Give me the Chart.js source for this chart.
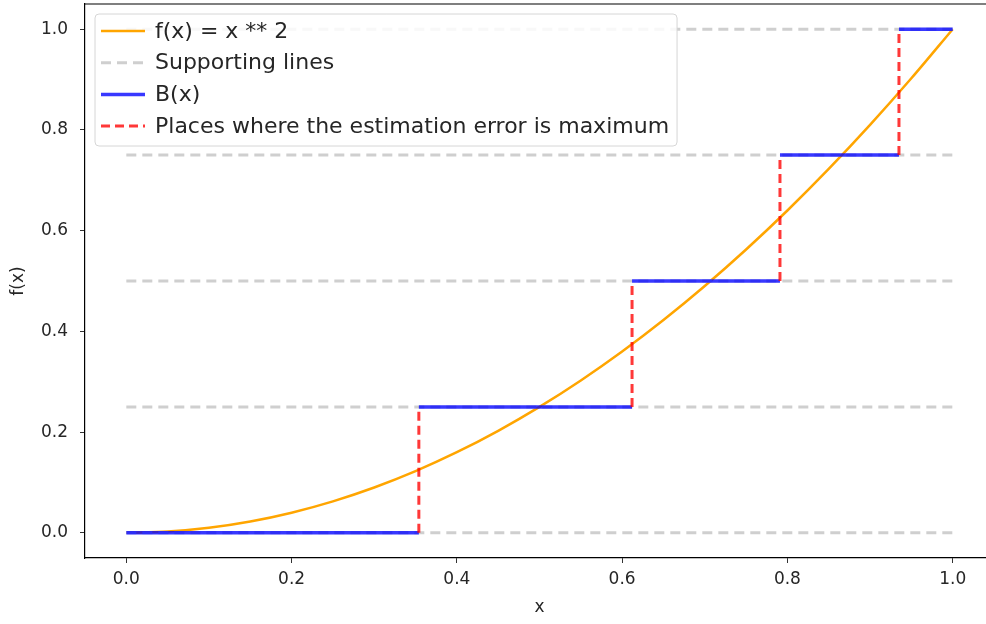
<!DOCTYPE html>
<html>
<head>
<meta charset="utf-8">
<script src="https://cdn.jsdelivr.net/npm/chart.js@4.4.0/dist/chart.umd.min.js"></script>
<style>
html, body { margin: 0; padding: 0; background: #fff; overflow: hidden; }
canvas { display: block; }
</style>
</head>
<body>
<canvas id="chart" width="1000" height="624"></canvas>
<script>
// f(x) = x ** 2 sampled along x
const curveX = [0, 0.05, 0.1, 0.15, 0.2, 0.25, 0.3, 0.35, 0.4, 0.45, 0.5, 0.55, 0.6, 0.65, 0.7, 0.75, 0.8, 0.85, 0.9, 0.95, 1.0];
const curveY = [0, 0.0025, 0.01, 0.0225, 0.04, 0.0625, 0.09, 0.1225, 0.16, 0.2025, 0.25, 0.3025, 0.36, 0.4225, 0.49, 0.5625, 0.64, 0.7225, 0.81, 0.9025, 1.0];

// B(x): step edges on x and the level held between them
const stepEdges = [0, 0.354, 0.612, 0.791, 0.935, 1.0];
const stepLevels = [0, 0.25, 0.5, 0.75, 1.0];

// horizontal supporting lines
const supportLevels = [0, 0.25, 0.5, 0.75, 1.0];

const xTicks = [0, 0.2, 0.4, 0.6, 0.8, 1.0];
const yTicks = [0, 0.2, 0.4, 0.6, 0.8, 1.0];

const labels = ['f(x) = x ** 2', 'Supporting lines', 'B(x)', 'Places where the estimation error is maximum'];

// build line data, null points break the segments
const curveData = curveX.map((x, i) => ({ x: x, y: curveY[i] }));

const supportData = [];
supportLevels.forEach(lv => {
    supportData.push({ x: stepEdges[0], y: lv }, { x: stepEdges[stepEdges.length - 1], y: lv }, { x: stepEdges[stepEdges.length - 1], y: null });
});

const stepData = [];
stepLevels.forEach((lv, i) => {
    stepData.push({ x: stepEdges[i], y: lv }, { x: stepEdges[i + 1], y: lv }, { x: stepEdges[i + 1], y: null });
});

const errorData = [];
for (let i = 1; i < stepLevels.length; i++) {
    errorData.push({ x: stepEdges[i], y: stepLevels[i - 1] }, { x: stepEdges[i], y: stepLevels[i] }, { x: stepEdges[i], y: null });
}

Chart.defaults.font.family = "'DejaVu Sans', sans-serif";
Chart.defaults.color = '#262626';

const frame = {
    id: 'frame',
    afterDraw(chart) {
        const ctx = chart.ctx, a = chart.chartArea;
        ctx.save();
        ctx.strokeStyle = '#000';
        ctx.lineWidth = 1.2;
        ctx.beginPath();
        ctx.moveTo(a.left, a.top);
        ctx.lineTo(a.right, a.top);
        ctx.lineTo(a.right, a.bottom);
        ctx.stroke();
        ctx.restore();
    }
};

const legendBox = {
    id: 'legendBox',
    afterDraw(chart) {
        const ctx = chart.ctx, a = chart.chartArea;
        const sets = chart.data.datasets;
        ctx.save();
        ctx.font = "22px 'DejaVu Sans'";
        let maxW = 0;
        sets.forEach(d => { maxW = Math.max(maxW, ctx.measureText(d.label).width); });
        const x0 = a.left + 10, y0 = a.top + 10;
        const w = 60 + maxW + 8, h = 132;
        ctx.beginPath();
        ctx.roundRect(x0, y0, w, h, 4);
        ctx.fillStyle = 'rgba(255,255,255,0.85)';
        ctx.fill();
        ctx.strokeStyle = '#d6d6d6';
        ctx.lineWidth = 1;
        ctx.stroke();
        sets.forEach((d, i) => {
            const cy = y0 + 17 + i * 31.7;
            ctx.beginPath();
            ctx.setLineDash(d.borderDash || []);
            ctx.strokeStyle = d.borderColor;
            ctx.lineWidth = d.borderWidth;
            ctx.moveTo(x0 + 6, cy);
            ctx.lineTo(x0 + 50, cy);
            ctx.stroke();
            ctx.setLineDash([]);
            ctx.fillStyle = '#262626';
            ctx.textBaseline = 'middle';
            ctx.fillText(d.label, x0 + 60, cy + 1);
        });
        ctx.restore();
    }
};

new Chart(document.getElementById('chart'), {
    type: 'scatter',
    data: {
        datasets: [
            {
                label: labels[0],
                data: curveData,
                showLine: true,
                borderColor: '#FFA500',
                borderWidth: 2.5,
                pointRadius: 0,
                cubicInterpolationMode: 'monotone',
                order: 3
            },
            {
                label: labels[1],
                data: supportData,
                showLine: true,
                spanGaps: false,
                borderColor: '#cfcfcf',
                borderWidth: 3,
                borderDash: [10, 6],
                pointRadius: 0,
                order: 2
            },
            {
                label: labels[2],
                data: stepData,
                showLine: true,
                spanGaps: false,
                borderColor: 'rgba(0,0,255,0.78)',
                borderWidth: 3.5,
                pointRadius: 0,
                order: 1
            },
            {
                label: labels[3],
                data: errorData,
                showLine: true,
                spanGaps: false,
                borderColor: 'rgba(255,0,0,0.78)',
                borderWidth: 3,
                borderDash: [9, 5],
                pointRadius: 0,
                order: 0
            }
        ]
    },
    options: {
        responsive: false,
        animation: false,
        layout: {
            padding: { top: 4, right: 6, left: 0, bottom: 0 }
        },
        plugins: {
            legend: { display: false },
            tooltip: { enabled: false }
        },
        scales: {
            x: {
                type: 'linear',
                min: -0.05,
                max: 1.05,
                afterBuildTicks: scale => { scale.ticks = xTicks.map(v => ({ value: v })); },
                afterFit: scale => {
                    scale.height = 66;
                    scale.paddingLeft = 0;
                    scale.paddingRight = 0;
                },
                border: { display: true, color: '#000', width: 1.2 },
                grid: { drawOnChartArea: false, drawTicks: true, tickLength: 5, color: '#333' },
                ticks: {
                    padding: 6,
                    maxRotation: 0,
                    font: { size: 17 },
                    callback: v => v.toFixed(1)
                },
                title: {
                    display: true,
                    text: 'x',
                    font: { size: 17 },
                    padding: { top: 0, bottom: 6 }
                }
            },
            y: {
                type: 'linear',
                min: -0.05,
                max: 1.05,
                afterBuildTicks: scale => { scale.ticks = yTicks.map(v => ({ value: v })); },
                afterFit: scale => {
                    scale.width = 85;
                    scale.paddingTop = 0;
                    scale.paddingBottom = 0;
                },
                border: { display: true, color: '#000', width: 1.2 },
                grid: { drawOnChartArea: false, drawTicks: true, tickLength: 5, color: '#333' },
                ticks: {
                    padding: 12,
                    font: { size: 17 },
                    callback: v => v.toFixed(1)
                },
                title: {
                    display: true,
                    text: 'f(x)',
                    font: { size: 17 },
                    padding: { top: 8, bottom: 0 }
                }
            }
        }
    },
    plugins: [frame, legendBox]
});
</script>
</body>
</html>
